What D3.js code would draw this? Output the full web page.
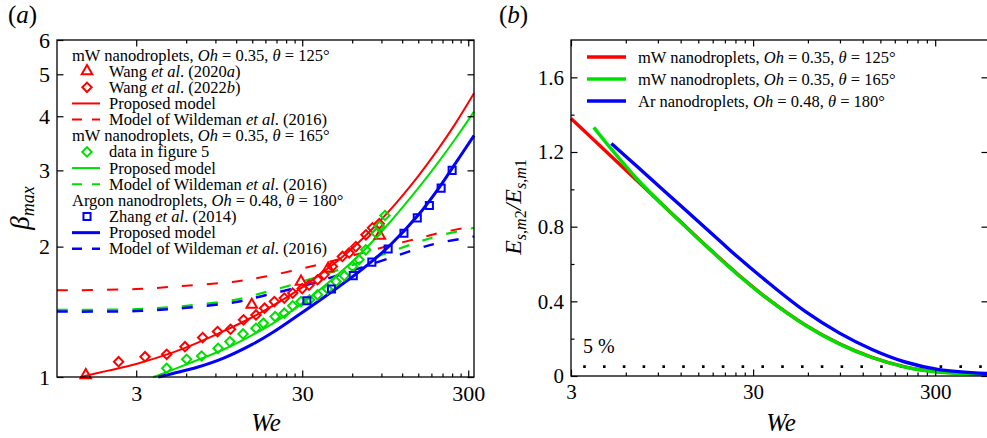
<!DOCTYPE html>
<meta charset="utf-8">
<style>
body { margin: 0; background: #fff; }
svg { font-family: "Liberation Serif", "Times New Roman", serif; }
.frame { fill: none; stroke: #000; stroke-width: 1.3; }
.axis path { display: none; }
.axis line { stroke: #000; stroke-width: 1.2; }
.axis text { font-family: "Liberation Serif", "Times New Roman", serif; fill: #000; }
.curve { fill: none; }
.lg { font-size: 16.5px; fill: #000; }
</style>
<body>
<svg width="987" height="438"></svg>
<script src="https://cdn.jsdelivr.net/npm/d3@7"></script>
<script>

// ---------- panel (a) data ----------
var redModelWe   = [1.39, 2, 3, 5, 7, 10, 15, 20, 30, 50, 70, 100, 150, 200, 250, 325];
var redModelBeta = [1.0, 1.033, 1.072, 1.14, 1.199, 1.274, 1.374, 1.462, 1.611, 1.866, 2.094, 2.415, 2.911, 3.381, 3.837, 4.52];

var greenModelWe   = [3.8, 5, 7, 10, 15, 20, 30, 50, 70, 100, 150, 200, 250, 325];
var greenModelBeta = [1.0, 1.04, 1.094, 1.156, 1.25, 1.33, 1.479, 1.734, 1.954, 2.265, 2.729, 3.148, 3.54, 4.1];

var blueModelWe   = [4.08, 5, 7, 10, 15, 20, 30, 50, 70, 100, 150, 200, 250, 325];
var blueModelBeta = [1.0, 1.019, 1.053, 1.104, 1.189, 1.268, 1.409, 1.618, 1.782, 2.004, 2.366, 2.735, 3.105, 3.61];

var wildWe        = [1, 3, 6, 12, 18, 30, 50, 100, 150, 200, 325];
var redWildBeta   = [1.585, 1.596, 1.625, 1.662, 1.706, 1.78, 1.87, 2.01, 2.09, 2.15, 2.23];
var greenWildBeta = [1.43, 1.434, 1.46, 1.51, 1.57, 1.66, 1.77, 1.94, 2.05, 2.12, 2.21];
var blueWildBeta  = [1.416, 1.42, 1.445, 1.49, 1.545, 1.62, 1.72, 1.88, 1.98, 2.04, 2.11];

var wang2020We   = [1.49, 14.9, 29.5, 43, 88];
var wang2020Beta = [1.01, 1.468, 1.66, 1.78, 2.12];

var wang2022We   = [2.35, 3.39, 4.58, 5.9, 7.54, 9.27, 11.1, 13.3, 15.8, 17.8, 20.4, 23.4, 26.3, 30, 33, 37.1, 40.6, 45.6, 52.4, 57.5, 63.1, 72.6, 79.5, 87.3];
var wang2022Beta = [1.085, 1.114, 1.128, 1.175, 1.233, 1.273, 1.289, 1.355, 1.391, 1.442, 1.493, 1.521, 1.562, 1.60, 1.63, 1.677, 1.723, 1.80, 1.898, 1.934, 2.0, 2.13, 2.21, 2.26];

var fig5We   = [4.58, 6.04, 7.43, 9.34, 11.0, 13.2, 15.8, 17.5, 20.6, 23.4, 26.3, 29.5, 33.2, 37.1, 42.6, 47.9, 53.8, 60.3, 66.0, 72.4, 83.7, 87.6, 94.5];
var fig5Beta = [1.047, 1.099, 1.118, 1.165, 1.207, 1.257, 1.296, 1.331, 1.379, 1.404, 1.46, 1.493, 1.507, 1.548, 1.596, 1.662, 1.714, 1.80, 1.866, 1.966, 2.148, 2.229, 2.36];

var zhangWe   = [32, 45, 60.9, 78.8, 98.8, 123, 148, 175, 206, 240];
var zhangBeta = [1.50, 1.596, 1.714, 1.842, 1.975, 2.148, 2.33, 2.49, 2.73, 3.0];

var aXMajor = [3, 30, 300];
var aYMajor = [1, 2, 3, 4, 5, 6];

// ---------- panel (b) data ----------
var redEWe  = [3, 4, 5, 7, 10, 15, 20, 25, 35, 58, 89, 135, 205, 300, 585];
var redE    = [1.38, 1.265, 1.176, 1.042, 0.899, 0.737, 0.625, 0.541, 0.424, 0.274, 0.174, 0.10, 0.049, 0.024, 0.01];
var greenEWe = [4, 5, 7, 10, 15, 20, 25, 35, 58, 89, 135, 205, 300, 585];
var greenE   = [1.332, 1.215, 1.05, 0.898, 0.735, 0.623, 0.539, 0.422, 0.272, 0.172, 0.099, 0.048, 0.023, 0.008];
var blueEWe = [5, 7, 10, 15, 20, 25, 37, 58, 89, 135, 205, 315, 585];
var blueE   = [1.246, 1.118, 0.982, 0.828, 0.718, 0.633, 0.494, 0.346, 0.231, 0.142, 0.075, 0.034, 0.013];

var bXMajor = [3, 30, 300];
var bYMajor = [0, 0.4, 0.8, 1.2, 1.6];
var bYMinor = [0.2, 0.6, 1.0, 1.4];
var threshold = 0.05;

var RED = "#ff0000", GREEN = "#00e000", BLUE = "#0000ff";

var svg = d3.select("svg");

function zip(a, b) { return a.map(function(v, i) { return [v, b[i]]; }); }

// minor ticks at multiples of 3 inside each decade
function minorTicks(lo, hi) {
  var out = [];
  [3, 30, 300].forEach(function(base) {
    for (var k = 2; k <= 9; k++) {
      var v = base * k;
      if (v > lo && v < hi) out.push(v);
    }
  });
  return out;
}

function axes(x, y, o) {
  var x0 = x.range()[0], x1 = x.range()[1], yb = y.range()[0], yt = y.range()[1];
  var xMinor = minorTicks(x.domain()[0], x.domain()[1]);

  var bot = svg.append("g").attr("class", "axis").attr("transform", "translate(0," + yb + ")")
    .call(d3.axisBottom(x).tickValues(o.xMajor).tickFormat(d3.format("d"))
      .tickSizeInner(-6.5).tickSizeOuter(0).tickPadding(8));
  bot.selectAll("text").style("font-size", o.fs + "px");
  svg.append("g").attr("class", "axis").attr("transform", "translate(0," + yb + ")")
    .call(d3.axisBottom(x).tickValues(xMinor).tickFormat("").tickSizeInner(-3.5).tickSizeOuter(0));
  svg.append("g").attr("class", "axis").attr("transform", "translate(0," + yt + ")")
    .call(d3.axisTop(x).tickValues(o.xMajor).tickFormat("").tickSizeInner(-6.5).tickSizeOuter(0));
  svg.append("g").attr("class", "axis").attr("transform", "translate(0," + yt + ")")
    .call(d3.axisTop(x).tickValues(xMinor).tickFormat("").tickSizeInner(-3.5).tickSizeOuter(0));

  var lft = svg.append("g").attr("class", "axis").attr("transform", "translate(" + x0 + ",0)")
    .call(d3.axisLeft(y).tickValues(o.yMajor).tickFormat(o.yFormat)
      .tickSizeInner(-6.5).tickSizeOuter(0).tickPadding(7));
  lft.selectAll("text").style("font-size", o.fs + "px");
  if (o.yMinor) {
    svg.append("g").attr("class", "axis").attr("transform", "translate(" + x0 + ",0)")
      .call(d3.axisLeft(y).tickValues(o.yMinor).tickFormat("").tickSizeInner(-3.5).tickSizeOuter(0));
  }
  svg.append("g").attr("class", "axis").attr("transform", "translate(" + x1 + ",0)")
    .call(d3.axisRight(y).tickValues(o.yMajor).tickFormat("").tickSizeInner(-6.5).tickSizeOuter(0));

  svg.append("rect").attr("class", "frame")
    .attr("x", x0).attr("y", yt).attr("width", x1 - x0).attr("height", yb - yt);
}

function rich(sel, parts) {
  parts.forEach(function(p) {
    sel.append("tspan").text(p[0]).style("font-style", p[1] ? "italic" : null);
  });
}

// ================= panel (a) =================
var xa = d3.scaleLog().domain([1, 325]).range([57, 474]);
var ya = d3.scaleLog().domain([1, 6]).range([377, 40]);

var lineA = d3.line().curve(d3.curveCatmullRom.alpha(0.5))
  .x(function(d) { return xa(d[0]); }).y(function(d) { return ya(d[1]); });

var dashed = [
  [redWildBeta, RED, 2], [greenWildBeta, GREEN, 2.2], [blueWildBeta, BLUE, 2.5]
];
dashed.forEach(function(s) {
  svg.append("path").attr("class", "curve").attr("d", lineA(zip(wildWe, s[0])))
    .attr("stroke", s[1]).attr("stroke-width", s[2]).attr("stroke-dasharray", "11,14");
});

[[redModelWe, redModelBeta, RED, 2], [greenModelWe, greenModelBeta, GREEN, 2], [blueModelWe, blueModelBeta, BLUE, 3]]
  .forEach(function(s) {
    svg.append("path").attr("class", "curve").attr("d", lineA(zip(s[0], s[1])))
      .attr("stroke", s[2]).attr("stroke-width", s[3]);
  });

var triSym = d3.symbol().type(d3.symbolTriangle).size(48);
var sqSym = d3.symbol().type(d3.symbolSquare).size(50);
var diaSym = d3.symbol().type(d3.symbolSquare).size(44);

function markers(we, beta, sym, color, rot) {
  svg.append("g").selectAll("path").data(zip(we, beta)).enter().append("path")
    .attr("d", sym)
    .attr("transform", function(d) { return "translate(" + xa(d[0]) + "," + ya(d[1]) + ")" + (rot ? " rotate(45)" : ""); })
    .attr("fill", "none").attr("stroke", color).attr("stroke-width", 2);
}
markers(wang2022We, wang2022Beta, diaSym, RED, true);
markers(wang2020We, wang2020Beta, triSym, RED, false);
markers(fig5We, fig5Beta, diaSym, GREEN, true);
markers(zhangWe, zhangBeta, sqSym, BLUE, false);

axes(xa, ya, { xMajor: aXMajor, yMajor: aYMajor, yFormat: d3.format("d"), fs: 22 });

// legend (a)
var legA = svg.append("g");
var rowA = function(i) { return 55 + i * 16.15; };
var legRows = [
  { head: [["mW nanodroplets, "], ["Oh", 1], [" = 0.35, "], ["\u03b8", 1], [" = 125\u00b0"]] },
  { sym: "tri", c: RED, txt: [["Wang "], ["et al", 1], [". (2020"], ["a", 1], [")"]] },
  { sym: "dia", c: RED, txt: [["Wang "], ["et al", 1], [". (2022"], ["b", 1], [")"]] },
  { line: "solid", c: RED, w: 2, txt: [["Proposed model"]] },
  { line: "dash", c: RED, w: 2, txt: [["Model of Wildeman "], ["et al", 1], [". (2016)"]] },
  { head: [["mW nanodroplets, "], ["Oh", 1], [" = 0.35, "], ["\u03b8", 1], [" = 165\u00b0"]] },
  { sym: "dia", c: GREEN, txt: [["data in figure 5"]] },
  { line: "solid", c: GREEN, w: 2, txt: [["Proposed model"]] },
  { line: "dash", c: GREEN, w: 2, txt: [["Model of Wildeman "], ["et al", 1], [". (2016)"]] },
  { head: [["Argon nanodroplets, "], ["Oh", 1], [" = 0.48, "], ["\u03b8", 1], [" = 180\u00b0"]] },
  { sym: "sq", c: BLUE, txt: [["Zhang "], ["et al", 1], [". (2014)"]] },
  { line: "solid", c: BLUE, w: 3, txt: [["Proposed model"]] },
  { line: "dash", c: BLUE, w: 2.5, txt: [["Model of Wildeman "], ["et al", 1], [". (2016)"]] }
];
legRows.forEach(function(r, i) {
  var cy = rowA(i);
  if (r.head) {
    rich(legA.append("text").attr("class", "lg").attr("x", 72).attr("y", cy + 5.5), r.head);
    return;
  }
  if (r.sym) {
    var s = r.sym === "tri" ? triSym : r.sym === "sq" ? sqSym : diaSym;
    legA.append("path").attr("d", s)
      .attr("transform", "translate(87," + cy + ")" + (r.sym === "dia" ? " rotate(45)" : ""))
      .attr("fill", "none").attr("stroke", r.c).attr("stroke-width", 2);
  }
  if (r.line) {
    legA.append("line").attr("x1", 72).attr("x2", 100).attr("y1", cy).attr("y2", cy)
      .attr("stroke", r.c).attr("stroke-width", r.w)
      .attr("stroke-dasharray", r.line === "dash" ? "10,10" : null);
  }
  rich(legA.append("text").attr("class", "lg").attr("x", 109).attr("y", cy + 5.5), r.txt);
});

// titles (a)
var pa = svg.append("text").attr("x", 8).attr("y", 23).style("font-size", "25px");
rich(pa, [["("], ["a", 1], [")"]]);

svg.append("text").attr("x", 266).attr("y", 431).attr("text-anchor", "middle")
  .style("font-size", "25px").style("font-style", "italic").text("We");

var by = svg.append("text").attr("transform", "translate(29,208) rotate(-90)")
  .attr("text-anchor", "middle").style("font-size", "27px").style("font-style", "italic");
by.append("tspan").text("\u03b2");
by.append("tspan").attr("dy", 5).style("font-size", "18px").text("max");

// ================= panel (b) =================
var xb = d3.scaleLog().domain([3, 585]).range([571, 988]);
var yb = d3.scaleLinear().domain([0, 1.8]).range([376, 40]);

var lineB = d3.line().curve(d3.curveCatmullRom.alpha(0.5))
  .x(function(d) { return xb(d[0]); }).y(function(d) { return yb(d[1]); });

svg.append("line")
  .attr("x1", xb(3.5)).attr("x2", xb(585)).attr("y1", yb(threshold)).attr("y2", yb(threshold))
  .attr("stroke", "#000").attr("stroke-width", 2.6).attr("stroke-dasharray", "2.6,17.2");

[[redEWe, redE, RED], [greenEWe, greenE, GREEN], [blueEWe, blueE, BLUE]].forEach(function(s) {
  svg.append("path").attr("class", "curve").attr("d", lineB(zip(s[0], s[1])))
    .attr("stroke", s[2]).attr("stroke-width", 3.4);
});

axes(xb, yb, {
  xMajor: bXMajor, yMajor: bYMajor, yMinor: bYMinor, fs: 21,
  yFormat: function(d) { return d === 0 ? "0" : d3.format(".1f")(d); }
});

svg.append("text").attr("x", 583).attr("y", 353).style("font-size", "20px").text("5 %");

var legB = svg.append("g");
var legBRows = [
  [RED, [["mW nanodroplets, "], ["Oh", 1], [" = 0.35, "], ["\u03b8", 1], [" = 125\u00b0"]]],
  [GREEN, [["mW nanodroplets, "], ["Oh", 1], [" = 0.35, "], ["\u03b8", 1], [" = 165\u00b0"]]],
  [BLUE, [["Ar nanodroplets, "], ["Oh", 1], [" = 0.48, "], ["\u03b8", 1], [" = 180\u00b0"]]]
];
legBRows.forEach(function(r, i) {
  var cy = 57 + i * 22;
  legB.append("line").attr("x1", 587).attr("x2", 626).attr("y1", cy).attr("y2", cy)
    .attr("stroke", r[0]).attr("stroke-width", 3.6);
  rich(legB.append("text").attr("class", "lg").attr("x", 638).attr("y", cy + 5.5), r[1]);
});

var pb = svg.append("text").attr("x", 499).attr("y", 23).style("font-size", "25px");
rich(pb, [["("], ["b", 1], [")"]]);

svg.append("text").attr("x", 781).attr("y", 431).attr("text-anchor", "middle")
  .style("font-size", "25px").style("font-style", "italic").text("We");

var ey = svg.append("text").attr("transform", "translate(521,207) rotate(-90)")
  .attr("text-anchor", "middle").style("font-size", "24px");
function eTerm(sub) {
  ey.append("tspan").style("font-style", "italic").text("E");
  var t = ey.append("tspan").attr("dy", 5).style("font-size", "16px");
  t.append("tspan").style("font-style", "italic").text("s");
  t.append("tspan").text(",");
  t.append("tspan").style("font-style", "italic").text("m");
  t.append("tspan").text(sub);
}
eTerm("2");
ey.append("tspan").attr("dy", -5).style("font-style", "italic").text("/");
eTerm("1");

</script>
</body>
